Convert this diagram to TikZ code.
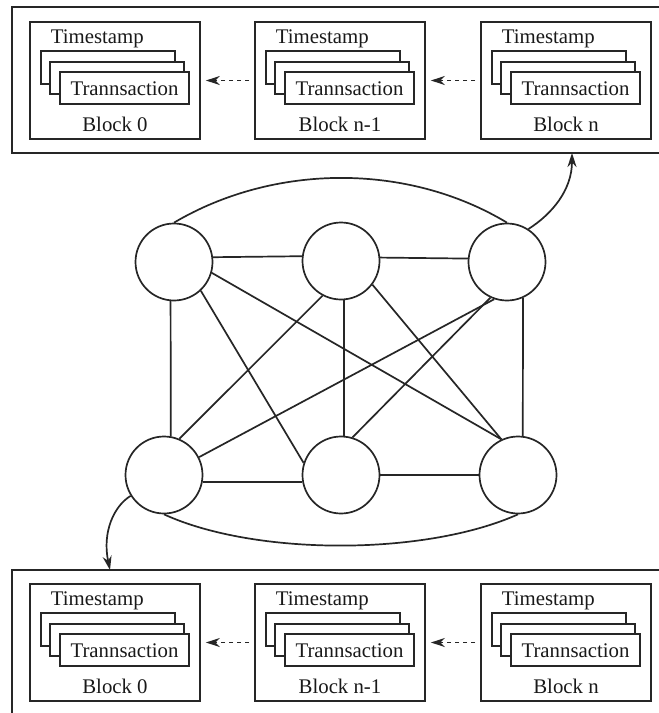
\documentclass[tikz,border=0pt]{standalone}
\usepackage{fontspec}
\setmainfont{Liberation Serif}
\usetikzlibrary{arrows.meta}

% One block of the chain: #1,#2 = top-left corner, #3 = caption, #4 = node name
\newcommand\chainblock[4]{%
  \node[blockbox] (#4) at (#1+85,#2+58.5) {};
  \node[lbl,anchor=base west] (#4ts) at (#1+20,#2+21) {Timestamp};
  \draw[txbox] (#1+11,#2+29) rectangle (#1+145,#2+62);
  \draw[txbox] (#1+20,#2+40) rectangle (#1+154,#2+72);
  \draw[txbox] (#1+30,#2+50) rectangle (#1+159,#2+82);
  \node[lbl] (#4tx) at (#1+94.5,#2+73) {Trannsaction};
  \node[lbl] (#4cap) at (#1+85,#2+109.5) {#3};
}

\begin{document}
\begin{tikzpicture}[x=0.5pt,y=-0.5pt,
  line width=0.85pt, draw=black!85,
  peer/.style={circle,draw,minimum size=38.5pt,inner sep=0pt},
  blockbox/.style={draw,minimum width=85pt,minimum height=58.5pt,inner sep=0pt},
  txbox/.style={draw,fill=white},
  lbl/.style={inner sep=0pt,anchor=base,text=black!90,
    font=\fontsize{10.4pt}{12pt}\selectfont},
  tip/.style={-{Stealth[length=7pt,width=4.5pt]}},
  link/.style={tip,dashed,dash pattern=on 2pt off 2pt,
    shorten >=2.5pt,shorten <=2.5pt}]

\clip (0,0) rectangle (659,713);
\fill[white] (0,0) rectangle (659,713);

% upper copy of the chain
\draw (12,7) rectangle (670,153);
\chainblock{30}{22}{Block 0}{ua}
\chainblock{255}{22}{Block n-1}{ub}
\chainblock{481}{22}{Block n}{uc}
\draw[link] (ub.west) -- (ua.east);
\draw[link] (uc.west) -- (ub.east);

% lower copy of the chain
\draw (12,570) rectangle (670,730);
\chainblock{30}{584}{Block 0}{la}
\chainblock{255}{584}{Block n-1}{lb}
\chainblock{481}{584}{Block n}{lc}
\draw[link] (lb.west) -- (la.east);
\draw[link] (lc.west) -- (lb.east);

% peer network
\node[peer] (tl) at (174,262) {};
\node[peer] (tm) at (341,261) {};
\node[peer] (tr) at (507,262) {};
\node[peer] (bl) at (164,475) {};
\node[peer] (bm) at (341,475) {};
\node[peer] (br) at (518,475) {};

\draw (tl.7) -- (tm.173);
\draw (tm.5) -- (tr.175);
\draw (bl.350) -- (bm.190);
\draw (bm) -- (br);
\draw (tl.265) -- (bl.80);
\draw (tm.274) -- (bm.86);
\draw (tr.294) -- (br.83);
\draw (tl.313) -- (bm.162);
\draw (tl.344) -- (br.115);
\draw (tm.242) -- (bl.67);
\draw (tm.323) -- (br.115);
\draw (tr.251) -- (bl.27);
\draw (tr.245) -- (bm.73);
\draw (tl.north) .. controls (275,163) and (408,163) .. (tr.north);
\draw (bl.south) .. controls (255,556) and (425,556) .. (br.south);

% hand-off to the two chains
\coordinate (upin) at (572,153);
\coordinate (downin) at (110,570);
\draw[tip] (tr.57) .. controls (552,214) and (572,190) .. (upin);
\draw[tip] (bl.212) .. controls (114,506) and (102,532) .. (downin);
\end{tikzpicture}
\end{document}
